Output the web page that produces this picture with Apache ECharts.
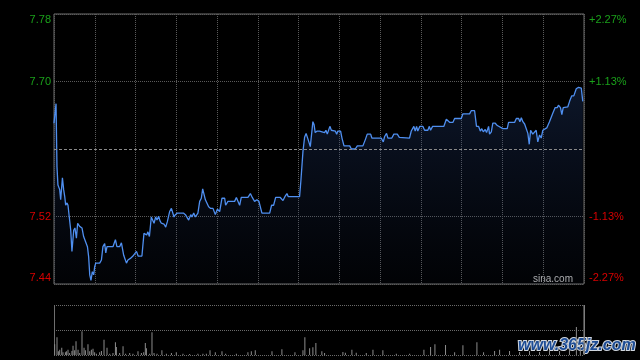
<!DOCTYPE html>
<html>
<head>
<meta charset="utf-8">
<script src="https://cdn.jsdelivr.net/npm/echarts@6/dist/echarts.min.js"></script>
<style>
html,body{margin:0;padding:0;background:#000;}
#c{width:640px;height:360px;}
</style>
</head>
<body>
<div id="c"></div>
<script>
// ---- data ----
const prevClose = 7.61;
const rangePct = 2.27;
const leftLabels = ['7.44', '7.52', '', '7.70', '7.78'];
const rightLabels = ['-2.27%', '-1.13%', '', '+1.13%', '+2.27%'];

// minutes from open (0..390) and traded price
const times = [0,1.5,2.2,2.9,4.2,4.9,6.2,7.1,7.9,8.6,9.6,10.3,11.5,12.3,13.2,14.5,15.4,16.5,17.4,18.9,20.6,21.8,23.3,24.6,25.5,26.3,27.2,28.2,29.2,29.9,30.7,33.6,34.9,36.0,37.3,38.1,39.0,43.4,45.2,46.3,48.3,49.6,51.3,53.3,54.4,56.2,58.1,60.7,61.9,64.7,66.2,67.2,68.2,69.1,70.2,71.6,72.8,73.6,74.8,75.8,77.0,78.0,79.0,80.9,82.2,83.4,85.1,86.4,87.1,88.3,89.3,90.8,95.2,96.7,97.8,99.1,100.6,101.5,102.8,104.0,105.9,107.2,108.4,109.4,110.3,111.4,112.8,113.8,115.3,117.0,118.7,120.2,121.9,123.6,125.6,126.3,128.0,132.9,134.2,135.4,136.6,137.8,142.7,144.5,145.9,147.6,149.3,150.8,151.8,153.0,158.7,160.1,161.6,163.1,166.5,168.5,169.9,171.4,172.4,180.7,181.7,183.2,184.4,185.5,187.0,188.6,190.5,191.4,192.2,193.7,195.4,196.7,199.1,200.1,201.1,202.1,203.0,204.1,207.0,208.0,208.9,210.9,211.9,213.4,217.6,218.8,221.7,223.2,227.3,229.1,230.5,233.0,233.9,240.8,242.3,243.3,244.7,245.7,248.6,250.1,252.6,254.1,255.0,261.6,262.9,264.1,264.8,265.8,266.8,267.7,269.2,271.4,272.7,275.1,276.2,277.1,278.6,280.1,286.9,288.7,289.8,291.3,293.5,294.8,299.7,300.9,305.8,307.0,309.5,310.9,312.4,313.7,314.8,315.9,317.3,318.3,319.8,320.5,321.8,322.9,324.7,326.2,327.6,330.3,333.5,334.5,338.9,340.2,341.9,342.8,343.9,345.0,346.3,347.2,348.7,349.7,350.7,352.3,353.6,354.8,356.0,357.3,358.5,359.7,360.9,362.6,364.6,367.1,368.8,370.3,371.2,372.7,373.7,374.7,378.1,379.4,381.0,382.5,384.3,386.0,388.0,389.1];
const prices = [7.643,7.668,7.587,7.564,7.558,7.545,7.573,7.558,7.549,7.538,7.541,7.538,7.536,7.506,7.479,7.506,7.509,7.496,7.515,7.511,7.509,7.498,7.491,7.485,7.472,7.449,7.442,7.453,7.449,7.459,7.464,7.464,7.468,7.485,7.489,7.477,7.485,7.485,7.494,7.485,7.485,7.490,7.474,7.464,7.468,7.470,7.473,7.479,7.473,7.473,7.502,7.504,7.500,7.504,7.498,7.523,7.523,7.515,7.523,7.519,7.524,7.518,7.515,7.514,7.510,7.517,7.530,7.534,7.534,7.523,7.526,7.528,7.528,7.526,7.527,7.519,7.526,7.523,7.528,7.523,7.528,7.543,7.547,7.559,7.558,7.545,7.543,7.536,7.534,7.534,7.526,7.533,7.530,7.547,7.547,7.538,7.543,7.543,7.548,7.548,7.538,7.548,7.548,7.553,7.548,7.543,7.545,7.543,7.544,7.528,7.528,7.538,7.538,7.548,7.548,7.544,7.549,7.553,7.549,7.549,7.570,7.607,7.625,7.630,7.622,7.613,7.645,7.641,7.631,7.633,7.633,7.631,7.631,7.634,7.629,7.630,7.639,7.634,7.633,7.629,7.633,7.633,7.624,7.614,7.614,7.610,7.610,7.614,7.614,7.622,7.629,7.629,7.624,7.624,7.619,7.626,7.630,7.624,7.624,7.629,7.629,7.625,7.624,7.624,7.633,7.634,7.639,7.633,7.639,7.633,7.639,7.639,7.634,7.634,7.639,7.634,7.639,7.639,7.639,7.648,7.649,7.644,7.644,7.649,7.649,7.655,7.655,7.659,7.659,7.639,7.639,7.633,7.636,7.632,7.635,7.631,7.639,7.629,7.632,7.643,7.643,7.640,7.639,7.636,7.636,7.644,7.644,7.649,7.649,7.645,7.650,7.645,7.642,7.643,7.630,7.616,7.634,7.629,7.628,7.634,7.619,7.628,7.624,7.634,7.636,7.637,7.645,7.656,7.663,7.663,7.666,7.663,7.654,7.663,7.664,7.671,7.678,7.678,7.687,7.689,7.688,7.671];

// volume (minutes, volume)
const volTimes = [0.5,2.2,3.2,4.2,5.7,6.6,8.4,9.1,10.3,11.5,13.2,14.0,15.2,16.2,17.7,18.9,20.6,22.1,23.1,25.0,26.3,27.5,28.7,29.9,31.2,33.6,34.9,36.8,39.0,41.0,43.4,45.2,45.9,48.3,50.8,52.7,55.7,58.1,61.8,64.3,66.0,67.2,68.0,70.4,72.1,73.6,75.8,79.4,82.7,86.4,90.0,94.9,99.8,105.9,109.6,112.1,114.8,118.7,123.6,126.3,134.2,142.7,145.2,148.1,160.4,167.7,177.3,183.2,184.6,188.1,190.5,192.7,197.1,199.1,212.6,214.4,219.2,222.4,229.8,234.7,242.0,251.9,261.7,272.2,277.1,280.3,288.1,294.8,300.9,311.2,316.1,324.2,327.9,335.2,342.6,349.9,357.3,364.6,372.0,379.3,384.4,387.3,390];
const volumes = [214,354,74,106,146,54,54,74,106,40,80,186,94,274,106,40,474,146,94,214,74,106,126,54,26,54,80,306,146,26,40,254,160,40,174,26,40,26,74,40,54,240,134,26,454,40,26,94,26,40,54,26,20,26,26,26,94,54,74,26,26,54,74,94,74,114,54,94,354,134,154,240,74,40,60,46,106,46,40,106,94,26,26,106,160,214,200,54,194,254,54,80,106,80,60,80,60,100,80,120,560,160,1000];
const volMax = 1000;

// ---- chart ----
const chart = echarts.init(document.getElementById('c'), null, {renderer: 'canvas'});
const step = rangePct / 2;
const idxOf = v => Math.round(v / step) + 2;
const labelColor = i => i > 2 ? '#1aa01a' : '#d80000';
const richStyles = {
  up: {color: '#1aa01a', padding: [12, 0, 0, 0]},
  upm: {color: '#1aa01a'},
  dn: {color: '#d80000', padding: [0, 0, 12, 0]},
  dnm: {color: '#d80000'}
};
function fmt(arr) {
  return function (v) {
    const i = idxOf(v);
    const t = arr[i] || '';
    if (!t) return '';
    const key = i === 4 ? 'up' : i === 3 ? 'upm' : i === 0 ? 'dn' : 'dnm';
    return '{' + key + '|' + t + '}';
  };
}
const lineData = times.map((t, i) => [t, (prices[i] / prevClose - 1) * 100]);
const volData = volTimes.map((t, i) => [t, volumes[i]]);
const gridGray = '#5a5a5a';

chart.setOption({
  backgroundColor: '#000',
  animation: false,
  grid: [
    {left: 54, top: 14, width: 530, height: 270, show: true, borderColor: '#6e6e6e', borderWidth: 1, backgroundColor: 'transparent'},
    {left: 54, top: 305, width: 530, height: 50, show: false}
  ],
  xAxis: [
    {gridIndex: 0, type: 'value', min: 0, max: 390, interval: 30,
     axisLine: {show: false}, axisTick: {show: false}, axisLabel: {show: false},
     splitLine: {show: true, lineStyle: {color: gridGray, type: [1, 1], width: 1}}},
    {gridIndex: 1, type: 'value', min: 0, max: 390, interval: 390,
     axisLine: {show: false}, axisTick: {show: false}, axisLabel: {show: false},
     splitLine: {show: true, lineStyle: {color: '#6e6e6e', type: 'solid', width: 1}}}
  ],
  yAxis: [
    {gridIndex: 0, type: 'value', min: -rangePct, max: rangePct, interval: step, position: 'left',
     axisLine: {show: false}, axisTick: {show: false},
     axisLabel: {show: true, margin: 3, fontSize: 11, fontFamily: 'Liberation Sans, Arial, sans-serif', formatter: fmt(leftLabels), rich: richStyles},
     splitLine: {show: true, lineStyle: {color: [gridGray, gridGray, 'rgba(0,0,0,0)', gridGray, gridGray], type: [1, 1], width: 1}}},
    {gridIndex: 0, type: 'value', min: -rangePct, max: rangePct, interval: step, position: 'right',
     axisLine: {show: false}, axisTick: {show: false},
     axisLabel: {show: true, margin: 5, fontSize: 11, fontFamily: 'Liberation Sans, Arial, sans-serif', formatter: fmt(rightLabels), rich: richStyles},
     splitLine: {show: false}},
    {gridIndex: 1, type: 'value', min: 0, max: volMax, interval: volMax / 2,
     axisLine: {show: false}, axisTick: {show: false}, axisLabel: {show: false},
     splitLine: {show: true, lineStyle: {color: '#6a6a6a', type: [1, 1], width: 1}}}
  ],
  series: [
    {type: 'line', xAxisIndex: 0, yAxisIndex: 0, data: lineData, showSymbol: false, symbol: 'none',
     lineStyle: {color: '#4f8ff0', width: 1.3},
     areaStyle: {origin: 'start', color: new echarts.graphic.LinearGradient(0, 0, 0, 1, [
       {offset: 0, color: 'rgba(40,70,130,0.45)'},
       {offset: 1, color: 'rgba(30,50,100,0.08)'}
     ])},
     markLine: {silent: true, symbol: 'none', label: {show: false},
       lineStyle: {color: '#8a8a8a', type: [3, 2], width: 1},
       data: [{yAxis: 0}]}
    },
    {type: 'bar', xAxisIndex: 1, yAxisIndex: 2, data: volData, barWidth: 1,
     itemStyle: {color: '#8c8c8c'}, barGap: 0}
  ],
  graphic: [
    {type: 'text', right: 67, top: 274, style: {text: 'sina.com', fill: '#b4b4b4', font: '10px "Liberation Sans", Arial, sans-serif'}},
    {type: 'text', left: 517, top: 337, style: {text: 'www.365jz.com', fill: '#1d4c95', stroke: '#d0d6de', lineWidth: 2, font: 'italic bold 16px "Liberation Sans", Arial, sans-serif'}}
  ]
});
</script>
</body>
</html>
